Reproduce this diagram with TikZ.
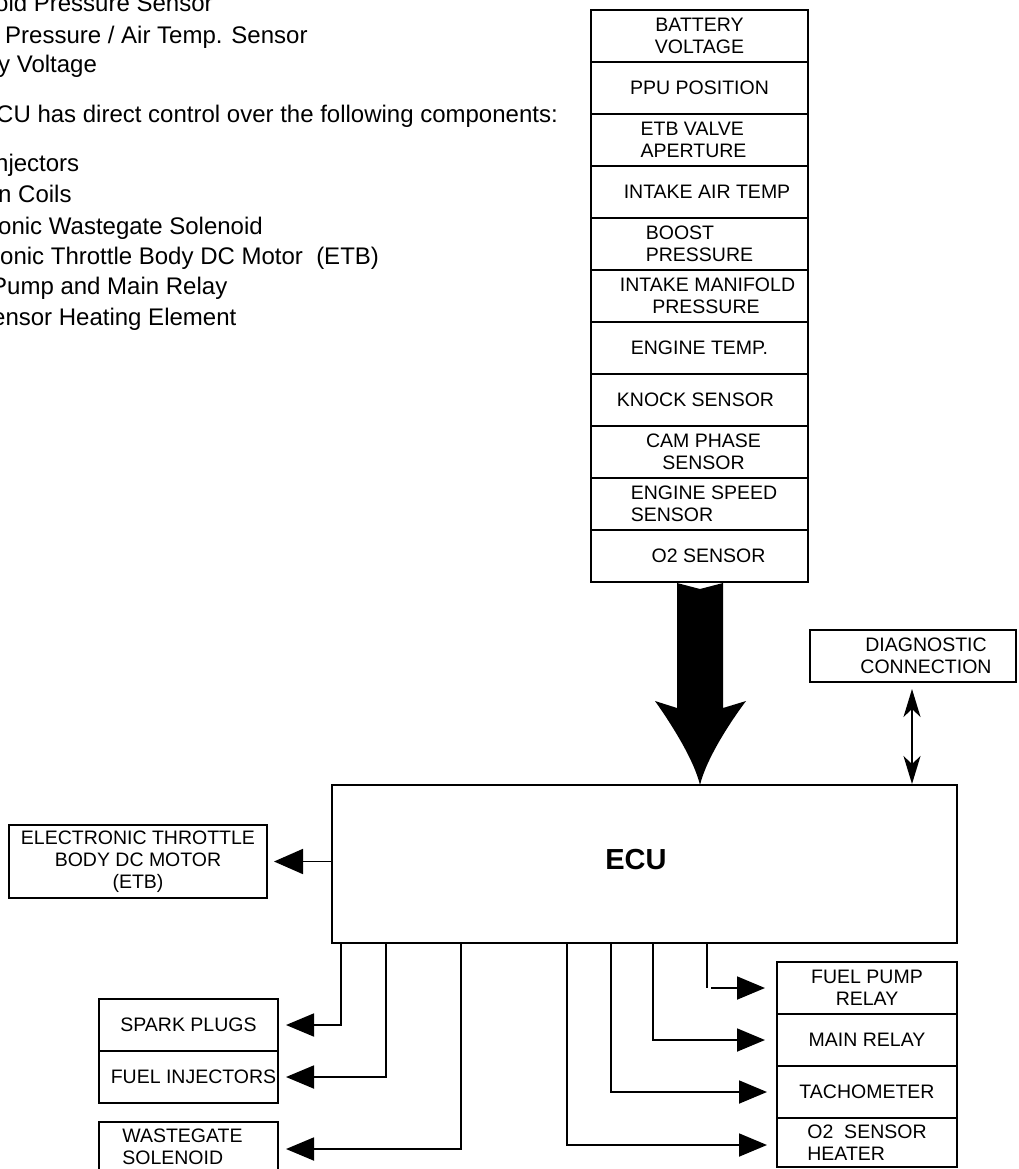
\documentclass[tikz,border=0pt]{standalone}
\usepackage{fontspec}
\setmainfont{Liberation Sans}
\usetikzlibrary{arrows.meta}
\newcommand\myboxfont{\fontsize{19.5}{22}\selectfont}
\newcommand\mybodyfont{\fontsize{24}{28}\selectfont}
\begin{document}
\begin{tikzpicture}[x=1pt,y=-1pt,
  body/.style={font=\mybodyfont, inner sep=0pt, anchor=base west},
  sbox/.style={draw, line width=2.5pt, minimum width=217pt, minimum height=52pt, inner sep=0pt, font=\myboxfont, align=center},
  obox/.style={draw, line width=2pt, inner sep=0pt, font=\myboxfont, align=center},
  arr/.style={line width=1.8pt, -{Triangle[length=28pt,width=23pt]}},
  wire/.style={line width=1.8pt}
]
\path[use as bounding box, clip] (0,0) rectangle (1018,1169);
\fill[white] (0,0) rectangle (1018,1169);

% ---- top-left text (cropped in the reference) ----
\node[body] (t1) at (-5,12) {oid Pressure Sensor};
\node[body] (t2) at (5,43.5) {Pressure / Air Temp. Sensor};
\node[body] (t3) at (-2,73) {y Voltage};
\node[body] (t4) at (-4,123) {CU has direct control over the following components:};
\node[body] (t5) at (-5,171.5) {njectors};
\node[body] (t6) at (-2,203) {n Coils};
\node[body] (t7) at (-2,234) {onic Wastegate Solenoid};
\node[body] (t8) at (0,264) {onic Throttle Body DC Motor~~(ETB)};
\node[body] (t9) at (-9,294.5) {Pump and Main Relay};
\node[body] (t10) at (-8,325) {ensor Heating Element};

% ---- sensor stack ----
\node[sbox] (s1) at (699.5,36) {BATTERY\\VOLTAGE};
\node[sbox] (s2) at (699.5,88) {PPU POSITION};
\node[sbox, align=left] (s3) at (699.5,140) {ETB VALVE\\APERTURE\hspace*{12pt}};
\node[sbox] (s4) at (699.5,192) {\hspace*{15pt}INTAKE AIR TEMP};
\node[sbox, align=left] (s5) at (699.5,244) {BOOST\\PRESSURE};
\node[sbox] (s6) at (699.5,296) {\hspace*{16pt}INTAKE MANIFOLD\\\hspace*{13pt}PRESSURE};
\node[sbox] (s7) at (699.5,348) {ENGINE TEMP.};
\node[sbox] (s8) at (699.5,400) {KNOCK SENSOR\hspace*{8pt}};
\node[sbox] (s9) at (699.5,452) {\hspace*{8pt}CAM PHASE\\\hspace*{8pt}SENSOR};
\node[sbox, align=left] (s10) at (699.5,504) {\hspace*{9pt}ENGINE SPEED\\\hspace*{9pt}SENSOR};
\node[sbox] (s11) at (699.5,556) {\hspace*{18pt}O2 SENSOR};

% ---- ECU ----
\node[obox, minimum width=625pt, minimum height=158pt, font=\fontsize{29}{32}\selectfont\bfseries] (ecu) at (644.5,864) {\raisebox{9pt}{ECU}\hspace*{17pt}};

% ---- big input arrow ----
\fill[black] (677,583) -- (700,589) -- (723,583) -- (723,708) -- (746,701)
  .. controls (728,725) and (706,760) .. (700,785)
  .. controls (694,760) and (672,725) .. (655,701) -- (677,708) -- cycle;

% ---- diagnostic ----
\node[obox, minimum width=206pt, minimum height=52pt] (diag) at (913,656) {\hspace*{26pt}DIAGNOSTIC\\\hspace*{26pt}CONNECTION};
\draw[line width=1.8pt, {Stealth[length=28pt,width=17pt,inset=8pt]}-{Stealth[length=28pt,width=17pt,inset=8pt]}, shorten <=6pt]
  ([xshift=-1pt]diag.south) -- ([xshift=-1pt]diag.south |- ecu.north);

% ---- ETB ----
\node[obox, minimum width=258pt, minimum height=73pt] (etb) at (138,861.5) {ELECTRONIC THROTTLE\\BODY DC MOTOR\\(ETB)};
\draw[arr, -{Triangle[length=29pt,width=25pt]}, shorten >=6pt] (etb.east -| ecu.west) -- (etb.east);

% ---- bottom-left outputs ----
\node[obox, minimum width=179pt, minimum height=52pt] (spark) at (188.5,1025) {SPARK PLUGS};
\node[obox, minimum width=179pt, minimum height=52pt] (inj) at (188.5,1077) {\hspace*{10pt}FUEL INJECTORS};
\node[obox, minimum width=179pt, minimum height=50pt, align=left] (wg) at (188.5,1147) {WASTEGATE\hspace*{12pt}\\SOLENOID};

\draw[arr, shorten >=7pt] ([xshift=10pt]ecu.south west) |- (spark.east);
\draw[arr, shorten >=7pt] ([xshift=55pt]ecu.south west) |- (inj.east);
\draw[arr, shorten >=7pt] ([xshift=130pt]ecu.south west) |- ([yshift=-2pt]wg.east);

% ---- bottom-right outputs ----
\node[obox, minimum width=180pt, minimum height=52pt] (fpr) at (867,988) {FUEL PUMP\\RELAY\hspace*{0pt}};
\node[obox, minimum width=180pt, minimum height=52pt] (mr) at (867,1040) {MAIN RELAY};
\node[obox, minimum width=180pt, minimum height=52pt] (tach) at (867,1092) {TACHOMETER};
\node[obox, minimum width=180pt, minimum height=49pt, align=left] (o2h) at (867,1142.5) {O2~~SENSOR\\HEATER};

\draw[arr, shorten >=9pt] ([xshift=236pt]ecu.south west) |- ([yshift=-2.5pt]o2h.west);
\draw[arr, shorten >=9pt] ([xshift=280pt]ecu.south west) |- (tach.west);
\draw[arr, shorten >=11pt] ([xshift=322pt]ecu.south west) |- (mr.west);
\coordinate (fpa) at (707,988);
\coordinate (fpb) at (711,988);
\draw[wire] (ecu.south -| fpa) -- (fpa);
\draw[arr, shorten >=11pt] (fpb) -- (fpr.west);
\end{tikzpicture}
\end{document}
